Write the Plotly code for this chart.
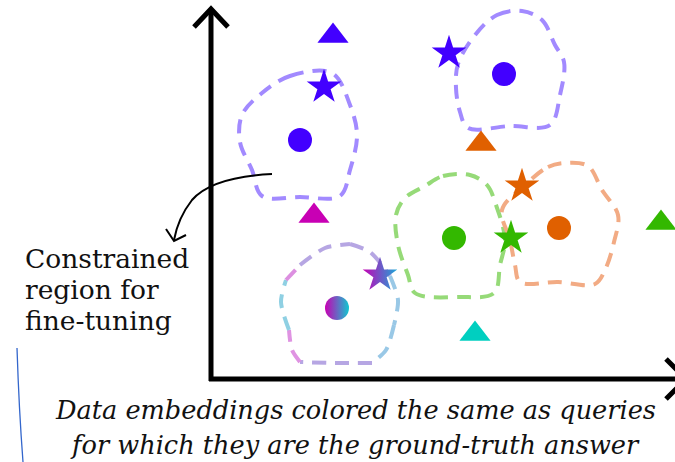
import plotly.graph_objects as go

# ---- data (embedding-space coordinates, screen units) ----
blue = "#4200ff"
orange = "#e06000"
green = "#33b800"
magenta = "#c800b4"
cyan = "#00cfc0"

marker_groups = [
    # (color, symbol, xs, ys, size)
    (blue,    "triangle-up", [333],       [36],       27),
    (blue,    "star",        [324, 449],  [87, 53],   26),
    (blue,    "circle",      [300, 504],  [140, 74],  24),
    (orange,  "triangle-up", [481],       [144],      27),
    (orange,  "star",        [522],       [186],      26),
    (orange,  "circle",      [559],       [228],      24),
    (green,   "circle",      [454],       [238],      24),
    (green,   "star",        [511],       [238],      26),
    (green,   "triangle-up", [661],       [223],      27),
    (magenta, "triangle-up", [314],       [216],      27),
    (cyan,    "triangle-up", [475],       [334],      27),
]

mixed_circle_x, mixed_circle_y = [337], [308]
mixed_star_x, mixed_star_y = [380], [275]

blob_blue_left_x = [262, 290, 332, 350, 357, 350, 340, 300, 262, 252, 240, 242]
blob_blue_left_y = [93, 76, 73, 105, 135, 170, 196, 197, 196, 170, 142, 115]
blob_blue_right_x = [475, 497, 522, 542, 555, 564, 560, 550, 510, 468, 460, 456, 458]
blob_blue_right_y = [35, 15, 11, 20, 45, 62, 95, 125, 126, 128, 112, 88, 64]
blob_green_x = [425, 443, 470, 487, 496, 505, 500, 494, 460, 415, 408, 398, 396, 405]
blob_green_y = [186, 176, 175, 185, 205, 240, 265, 293, 297, 293, 275, 245, 215, 198]
blob_orange_x = [525, 548, 565, 588, 602, 618, 614, 605, 595, 558, 520, 515, 510, 502]
blob_orange_y = [185, 167, 163, 166, 190, 215, 242, 270, 284, 282, 282, 265, 240, 210]
blob_mixed_x = [300, 325, 350, 370, 390, 398, 394, 386, 372, 335, 300, 292, 289, 281, 286]
blob_mixed_y = [265, 248, 244, 252, 276, 300, 325, 350, 363, 363, 362, 350, 330, 302, 280]
mixed_seg_colors = ["#b6a6e3", "#b6a6e3", "#99c8e6", "#99c8e6", "#b6a6e3", "#df93e2", "#8fd0e3", "#dc8fe0"]

label_text = ["Constrained", "region for", "fine-tuning"]
caption_text = ["Data embeddings colored the same as queries",
                "for which they are the ground-truth answer"]

fig = go.Figure()

def blob(xs, ys, color):
    fig.add_trace(go.Scatter(
        x=xs + xs[:1], y=ys + ys[:1], mode="lines",
        line=dict(color=color, width=4, dash="14px,9px", shape="spline", smoothing=1.0),
        hoverinfo="skip", showlegend=False))

blob(blob_blue_left_x, blob_blue_left_y, "#a28aff")
blob(blob_blue_right_x, blob_blue_right_y, "#a28aff")
blob(blob_green_x, blob_green_y, "#96da78")
blob(blob_orange_x, blob_orange_y, "#f2ab84")

# multicolour blob drawn in overlapping runs
mx = blob_mixed_x + blob_mixed_x[:1]
my = blob_mixed_y + blob_mixed_y[:1]
n = len(mx)
step = 2
for k, c in enumerate(mixed_seg_colors):
    i0 = k * step
    if i0 >= n - 1:
        break
    i1 = min(i0 + step + 1, n)
    fig.add_trace(go.Scatter(
        x=mx[i0:i1], y=my[i0:i1], mode="lines",
        line=dict(color=c, width=4, dash="14px,9px", shape="spline", smoothing=0.8),
        hoverinfo="skip", showlegend=False))

for color, sym, xs, ys, sz in marker_groups:
    fig.add_trace(go.Scatter(
        x=xs, y=ys, mode="markers",
        marker=dict(color=color, symbol=sym, size=sz, line=dict(width=0)),
        hoverinfo="skip", showlegend=False))

fig.add_trace(go.Scatter(
    x=mixed_circle_x, y=mixed_circle_y, mode="markers",
    marker=dict(color=magenta, symbol="circle", size=24,
                gradient=dict(type="horizontal", color="#10c8d0"), line=dict(width=0)),
    hoverinfo="skip", showlegend=False))
fig.add_trace(go.Scatter(
    x=mixed_star_x, y=mixed_star_y, mode="markers",
    marker=dict(color=magenta, symbol="star", size=26,
                gradient=dict(type="horizontal", color="#1aa8d8"), line=dict(width=0)),
    hoverinfo="skip", showlegend=False))

shapes = [
    # axes
    dict(type="line", x0=211, y0=9, x1=211, y1=381, line=dict(color="black", width=5)),
    dict(type="line", x0=209, y0=379, x1=690, y1=379, line=dict(color="black", width=5)),
    dict(type="path", path="M 194,27 L 211,9 L 228,27", line=dict(color="black", width=5)),
    dict(type="path", path="M 666,359 L 686,379 L 666,399", line=dict(color="black", width=5)),
    # curved arrow
    dict(type="path", path="M 272,174 Q 212,177 192,200 Q 178,218 174,240",
         line=dict(color="black", width=2)),
    dict(type="path", path="M 166,229 L 174,241 L 186,235", line=dict(color="black", width=2)),
    # stray blue stroke
    dict(type="path", path="M 17,348 Q 19,410 23,462", line=dict(color="#3366cc", width=1.3)),
]

annotations = []
for i, t in enumerate(label_text):
    annotations.append(dict(x=23, y=258 + i * 31, xref="x", yref="y", text=t,
                            showarrow=False, xanchor="left", yanchor="middle",
                            font=dict(family="DejaVu Serif", size=26.5, color="#111")))
for i, t in enumerate(caption_text):
    annotations.append(dict(x=355, y=410 + i * 35, xref="x", yref="y", text="<i>" + t + "</i>",
                            showarrow=False, xanchor="center", yanchor="middle",
                            font=dict(family="DejaVu Serif", size=25.6, color="#111")))

fig.update_layout(
    width=675, height=462, margin=dict(l=0, r=0, t=0, b=0),
    paper_bgcolor="white", plot_bgcolor="white",
    xaxis=dict(range=[0, 675], visible=False, fixedrange=True),
    yaxis=dict(range=[462, 0], visible=False, fixedrange=True),
    shapes=shapes, annotations=annotations, showlegend=False,
)

fig.write_html("out.html", config={"displayModeBar": False},
               post_script="document.body.style.margin='0';document.body.style.overflow='hidden';")
